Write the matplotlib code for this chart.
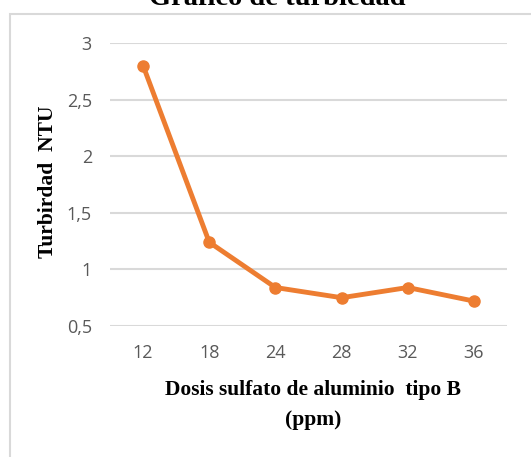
import matplotlib
matplotlib.use('Agg')
import matplotlib.pyplot as plt
from matplotlib.patches import Rectangle
from matplotlib.ticker import FuncFormatter

# data
dosis = ['12', '18', '24', '28', '32', '36']
turbiedad = [2.80, 1.24, 0.84, 0.75, 0.84, 0.72]
y_ticks = [0.5, 1.0, 1.5, 2.0, 2.5, 3.0]

orange = '#ED7D31'
grid_c = '#D9D9D9'
tick_c = '#595959'
serif = ['Liberation Serif', 'DejaVu Serif']

fig = plt.figure(figsize=(5.31, 4.57), dpi=100)

# chart area border (cut off right and bottom like the original)
fig.patches.append(Rectangle((10 / 531, -0.1), 1.0, 1 - 14 / 457 + 0.1,
                             transform=fig.transFigure, fill=False,
                             edgecolor=grid_c, linewidth=1.5))

ax = fig.add_axes([110 / 531, 1 - 326 / 457, 397 / 531, 283 / 457])
x = list(range(len(dosis)))
ax.plot(x, turbiedad, color=orange, linewidth=3.5, marker='o', markersize=8,
        solid_capstyle='round')

ax.set_xlim(-0.5, len(dosis) - 0.5)
ax.set_ylim(0.5, 3.0)
ax.set_xticks(x)
ax.set_xticklabels(dosis)
ax.set_yticks(y_ticks)
ax.yaxis.set_major_formatter(FuncFormatter(lambda v, p: ('%g' % v).replace('.', ',')))

for s in ax.spines.values():
    s.set_visible(False)
ax.grid(axis='y', color=grid_c, linewidth=1.5)
ax.set_axisbelow(True)
ax.tick_params(length=0, colors=tick_c, labelsize=13)
ax.tick_params(axis='x', pad=13)
ax.tick_params(axis='y', pad=13)
for lab in ax.get_xticklabels() + ax.get_yticklabels():
    lab.set_fontfamily(['Open Sans', 'DejaVu Sans'])

fig.text(48 / 531, 1 - 182 / 457, 'Turbirdad  NTU', rotation=90, ha='center',
         va='center', fontsize=15.5, fontweight='bold', family=serif)
fig.text(313 / 531, 1 - 390 / 457, 'Dosis sulfato de aluminio  tipo B',
         ha='center', va='center', fontsize=15.5, fontweight='bold', family=serif)
fig.text(313 / 531, 1 - 420 / 457, '(ppm)',
         ha='center', va='center', fontsize=15.5, fontweight='bold', family=serif)
fig.text(277 / 531, 1 - 5 / 457, 'Gráfico de turbiedad', ha='center',
         va='baseline', fontsize=20.5, fontweight='bold', family=serif)

fig.savefig('out.png', dpi=100)
